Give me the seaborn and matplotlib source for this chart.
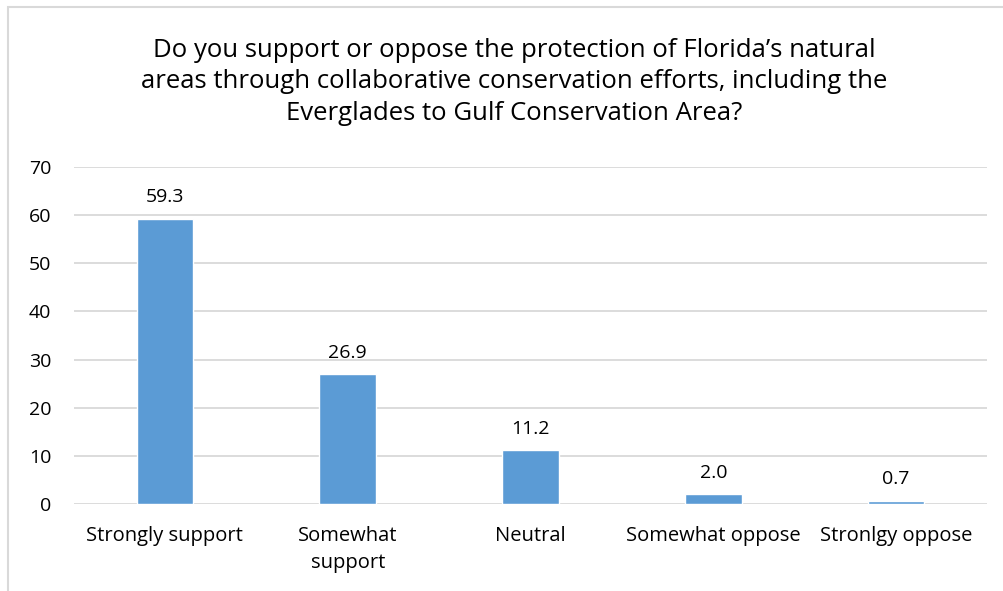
import matplotlib
matplotlib.use("Agg")
import matplotlib.pyplot as plt
from matplotlib.patches import Rectangle
import seaborn as sns
import pandas as pd

categories = ["Strongly support", "Somewhat\nsupport", "Neutral", "Somewhat oppose", "Stronlgy oppose"]
percentages = [59.3, 26.9, 11.2, 2.0, 0.7]
y_ticks = [0, 10, 20, 30, 40, 50, 60, 70]

title = ("Do you support or oppose the protection of Florida\u2019s natural\n"
         "areas through collaborative conservation efforts, including the\n"
         "Everglades to Gulf Conservation Area?")

sns.set_style("white")
plt.rcParams["font.family"] = ["Open Sans", "DejaVu Sans"]

df = pd.DataFrame({"category": categories, "value": percentages})

fig = plt.figure(figsize=(10.04, 5.91), dpi=100)
ax = fig.add_axes([73.5 / 1004, 1 - 504 / 591, 914 / 1004, 337 / 591])

sns.barplot(data=df, x="category", y="value", color="#5B9BD5", width=0.31,
            saturation=1, ax=ax, zorder=3)

for i, v in enumerate(percentages):
    ax.annotate(f"{v:.1f}", (i, v), xytext=(0, 9), textcoords="offset points",
                ha="center", va="bottom", fontsize=14, color="#000000")

ax.set_ylim(0, 70)
ax.set_yticks(y_ticks)
ax.set_xlim(-0.5, len(categories) - 0.5)
ax.yaxis.grid(True, color="#D9D9D9", linewidth=1.3, zorder=0)
ax.set_axisbelow(True)
for s in ax.spines.values():
    s.set_visible(False)
ax.tick_params(axis="both", length=0, labelsize=14, colors="#000000")
ax.tick_params(axis="x", labelsize=14.5)
ax.tick_params(axis="y", pad=16)
ax.tick_params(axis="x", pad=16)
for lbl in ax.get_xticklabels():
    lbl.set_linespacing(1.45)
ax.set_xlabel("")
ax.set_ylabel("")

fig.text(0.512, 1 - 82 / 591, title, ha="center", va="center", fontsize=18.5,
         linespacing=1.32, color="#000000")

fig.patches.append(Rectangle((8 / 1004, -0.1), 1.2, 1 - 7 / 591 + 0.1,
                             transform=fig.transFigure, fill=False,
                             edgecolor="#D9D9D9", linewidth=1.5))

fig.savefig("out.png", dpi=100)
